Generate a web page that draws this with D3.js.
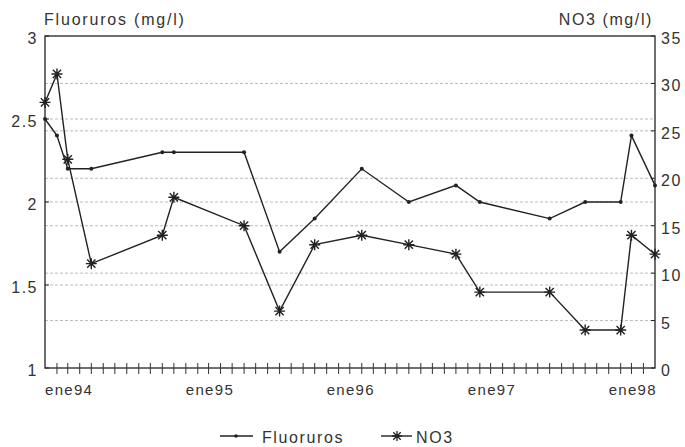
<!DOCTYPE html>
<html>
<head>
<meta charset="utf-8">
<script src="https://cdn.jsdelivr.net/npm/d3@7"></script>
<style>
  body { margin: 0; background: #fff; }
  text { font-family: "Liberation Sans", Arial, sans-serif; fill: #333; }
</style>
</head>
<body>
<svg id="chart" width="685" height="447"></svg>
<script>
// fechas de muestreo (primer dia del mes)
const fechas = ["1994-01", "1994-02", "1994-03", "1994-05", "1994-11", "1994-12",
  "1995-06", "1995-09", "1995-12", "1996-04", "1996-08", "1996-12",
  "1997-02", "1997-08", "1997-11", "1998-02", "1998-03", "1998-05"];
const fluoruros = [2.5, 2.4, 2.2, 2.2, 2.3, 2.3, 2.3, 1.7, 1.9, 2.2, 2.0, 2.1,
  2.0, 1.9, 2.0, 2.0, 2.4, 2.1];
const no3 = [28, 31, 22, 11, 14, 18, 15, 6, 13, 14, 13, 12, 8, 8, 4, 4, 14, 12];
const ticksIzq = [1, 1.5, 2, 2.5, 3];
const ticksDer = [0, 5, 10, 15, 20, 25, 30, 35];
const etiquetasAnio = ["ene94", "ene95", "ene96", "ene97", "ene98"];

const parse = d3.timeParse("%Y-%m");
const fechasD = fechas.map(parse);

const svg = d3.select("#chart");
const mLeft = 45, mRight = 655, mTop = 36, mBottom = 368;

const x = d3.scaleTime()
  .domain([parse("1994-01"), parse("1998-05")])
  .range([mLeft, mRight]);
const yL = d3.scaleLinear().domain([1, 3]).range([mBottom, mTop]);
const yR = d3.scaleLinear().domain([0, 35]).range([mBottom, mTop]);

// grid lines (dashed)
const grid = svg.append("g");
ticksIzq.filter(v => v > 1 && v < 3).forEach(function (v) {
  grid.append("line")
    .attr("x1", mLeft).attr("x2", mRight)
    .attr("y1", yL(v)).attr("y2", yL(v));
});
ticksDer.filter(v => v > 0 && v < 35).forEach(function (v) {
  grid.append("line")
    .attr("x1", mLeft).attr("x2", mRight)
    .attr("y1", yR(v)).attr("y2", yR(v));
});
grid.selectAll("line")
  .attr("stroke", "#aaa")
  .attr("stroke-width", 0.8)
  .attr("stroke-dasharray", "3,2");

// frame
svg.append("rect")
  .attr("x", mLeft).attr("y", mTop)
  .attr("width", mRight - mLeft).attr("height", mBottom - mTop)
  .attr("fill", "none")
  .attr("stroke", "#222")
  .attr("stroke-width", 1.3);

// left axis
const axL = svg.append("g");
ticksIzq.forEach(function (v) {
  axL.append("line")
    .attr("x1", mLeft).attr("x2", mLeft + 4)
    .attr("y1", yL(v)).attr("y2", yL(v))
    .attr("stroke", "#222");
  axL.append("text")
    .attr("x", mLeft - 7).attr("y", yL(v) + 8)
    .attr("text-anchor", "end")
    .attr("font-size", 16)
    .attr("letter-spacing", 1.5)
    .text(v);
});

// right axis
const axR = svg.append("g");
ticksDer.forEach(function (v) {
  axR.append("line")
    .attr("x1", mRight - 4).attr("x2", mRight)
    .attr("y1", yR(v)).attr("y2", yR(v))
    .attr("stroke", "#222");
  axR.append("text")
    .attr("x", mRight + 6).attr("y", yR(v) + 8)
    .attr("text-anchor", "start")
    .attr("font-size", 16)
    .attr("letter-spacing", 1.5)
    .text(v);
});

// x axis: monthly ticks crossing the baseline
const meses = d3.timeMonth.range(parse("1994-02"), parse("1998-05"));
svg.append("g").selectAll("line")
  .data(meses)
  .join("line")
  .attr("x1", d => x(d)).attr("x2", d => x(d))
  .attr("y1", mBottom - 5).attr("y2", mBottom + 6)
  .attr("stroke", "#333")
  .attr("stroke-width", 1);

const enero = d3.timeYear.range(parse("1994-01"), parse("1998-05"));
svg.append("g").selectAll("text")
  .data(enero)
  .join("text")
  .attr("x", d => x(d))
  .attr("y", 395)
  .attr("font-size", 15)
  .attr("letter-spacing", 1.3)
  .text((d, i) => etiquetasAnio[i]);

// axis titles
svg.append("text")
  .attr("x", 44).attr("y", 25)
  .attr("font-size", 16)
  .attr("letter-spacing", 1.8)
  .text("Fluoruros (mg/l)");
svg.append("text")
  .attr("x", 653).attr("y", 25)
  .attr("text-anchor", "end")
  .attr("font-size", 16)
  .attr("letter-spacing", 1.6)
  .text("NO3 (mg/l)");

// star marker path
function star(cx, cy, r) {
  const a = r * 0.75;
  return "M" + cx + "," + (cy - r) + "V" + (cy + r) +
    "M" + (cx - r) + "," + cy + "H" + (cx + r) +
    "M" + (cx - a) + "," + (cy - a) + "L" + (cx + a) + "," + (cy + a) +
    "M" + (cx - a) + "," + (cy + a) + "L" + (cx + a) + "," + (cy - a);
}

// Fluoruros line
const lineF = d3.line()
  .x((d, i) => x(fechasD[i]))
  .y(d => yL(d));
svg.append("path")
  .datum(fluoruros)
  .attr("fill", "none")
  .attr("stroke", "#222")
  .attr("stroke-width", 1.4)
  .attr("d", lineF);
svg.append("g").selectAll("circle")
  .data(fluoruros)
  .join("circle")
  .attr("cx", (d, i) => x(fechasD[i]))
  .attr("cy", d => yL(d))
  .attr("r", 2)
  .attr("fill", "#222");

// NO3 line
const lineN = d3.line()
  .x((d, i) => x(fechasD[i]))
  .y(d => yR(d));
svg.append("path")
  .datum(no3)
  .attr("fill", "none")
  .attr("stroke", "#222")
  .attr("stroke-width", 1.4)
  .attr("d", lineN);
svg.append("g").selectAll("path")
  .data(no3)
  .join("path")
  .attr("d", (d, i) => star(x(fechasD[i]), yR(d), 5.5))
  .attr("stroke", "#222")
  .attr("stroke-width", 1.4)
  .attr("fill", "none");

// legend
const leg = svg.append("g");
leg.append("line")
  .attr("x1", 220).attr("x2", 253).attr("y1", 436).attr("y2", 436)
  .attr("stroke", "#222").attr("stroke-width", 1.4);
leg.append("circle")
  .attr("cx", 236).attr("cy", 436).attr("r", 1.8).attr("fill", "#222");
leg.append("text")
  .attr("x", 262).attr("y", 443)
  .attr("font-size", 16)
  .attr("letter-spacing", 1.6)
  .text("Fluoruros");
leg.append("line")
  .attr("x1", 381).attr("x2", 412).attr("y1", 436).attr("y2", 436)
  .attr("stroke", "#222").attr("stroke-width", 1.4);
leg.append("path")
  .attr("d", star(397, 436, 5))
  .attr("stroke", "#222").attr("stroke-width", 1.3).attr("fill", "none");
leg.append("text")
  .attr("x", 416).attr("y", 443)
  .attr("font-size", 16)
  .attr("letter-spacing", 1.6)
  .text("NO3");
</script>
</body>
</html>
